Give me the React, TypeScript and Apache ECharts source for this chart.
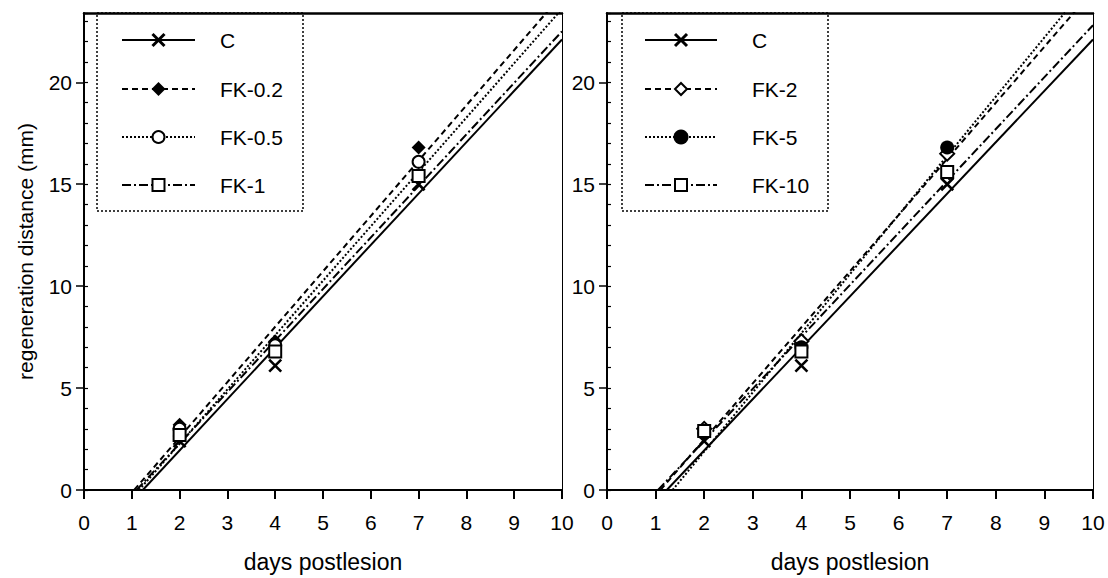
import React, { useEffect, useRef } from "react";
import * as echarts from "echarts";

// ---- data ----
const leftNames = ["C", "FK-0.2", "FK-0.5", "FK-1"];
const rightNames = ["C", "FK-2", "FK-5", "FK-10"];

const cPoints = [[2, 2.4], [4, 6.1], [7, 15.0]];
const fk02Points = [[2, 3.2], [4, 7.3], [7, 16.8]];
const fk05Points = [[2, 3.0], [4, 7.1], [7, 16.1]];
const fk1Points = [[2, 2.7], [4, 6.8], [7, 15.4]];
const fk2Points = [[2, 3.0], [4, 7.3], [7, 16.5]];
const fk5Points = [[2, 2.8], [4, 7.0], [7, 16.8]];
const fk10Points = [[2, 2.9], [4, 6.8], [7, 15.6]];

// regression lines: [x-intercept, 0] -> [10, value at day 10]
const cFit = [[1.23, 0], [10, 22.1]];
const fk02Fit = [[1.05, 0], [10, 24.3]];
const fk05Fit = [[1.15, 0], [10, 23.6]];
const fk1Fit = [[1.1, 0], [10, 22.5]];
const fk2Fit = [[1.1, 0], [10, 24.5]];
const fk5Fit = [[1.35, 0], [10, 25.1]];
const fk10Fit = [[1.05, 0], [10, 22.8]];

const yMajorTicks = [0, 5, 10, 15, 20];
const xTicks = [0, 1, 2, 3, 4, 5, 6, 7, 8, 9, 10];

const FONT = "Liberation Sans";

type Marker = "cross" | "diamondFill" | "circleOpen" | "rectOpen" | "diamondOpen" | "circleFill";

const lineTypes: any[] = ["solid", [6, 4], [2, 2], [9, 3, 2, 3]];

function markerStyle(m: Marker) {
  switch (m) {
    case "cross":
      return { symbol: "path://M0,0L10,10M10,0L0,10", symbolSize: 12, itemStyle: { color: "#000", borderColor: "#000", borderWidth: 2.6, opacity: 1 } };
    case "diamondFill":
      return { symbol: "diamond", symbolSize: 14, itemStyle: { color: "#000", opacity: 1 } };
    case "circleOpen":
      return { symbol: "circle", symbolSize: 12, itemStyle: { color: "#fff", borderColor: "#000", borderWidth: 2, opacity: 1 } };
    case "rectOpen":
      return { symbol: "rect", symbolSize: 12, itemStyle: { color: "#fff", borderColor: "#000", borderWidth: 2, opacity: 1 } };
    case "diamondOpen":
      return { symbol: "diamond", symbolSize: 14, itemStyle: { color: "#fff", borderColor: "#000", borderWidth: 2, opacity: 1 } };
    case "circleFill":
      return { symbol: "circle", symbolSize: 14, itemStyle: { color: "#000", opacity: 1 } };
  }
}

function legendMarker(m: Marker, cx: number, cy: number): any[] {
  const s = { stroke: "#000", lineWidth: 2 };
  switch (m) {
    case "cross":
      return [
        { type: "line", shape: { x1: cx - 6, y1: cy - 6, x2: cx + 6, y2: cy + 6 }, style: { stroke: "#000", lineWidth: 3 } },
        { type: "line", shape: { x1: cx + 6, y1: cy - 6, x2: cx - 6, y2: cy + 6 }, style: { stroke: "#000", lineWidth: 3 } },
      ];
    case "diamondFill":
      return [{ type: "polygon", shape: { points: [[cx, cy - 7], [cx + 7, cy], [cx, cy + 7], [cx - 7, cy]] }, style: { fill: "#000" } }];
    case "diamondOpen":
      return [{ type: "polygon", shape: { points: [[cx, cy - 6], [cx + 6, cy], [cx, cy + 6], [cx - 6, cy]] }, style: { fill: "#fff", ...s } }];
    case "circleOpen":
      return [{ type: "circle", shape: { cx, cy, r: 6 }, style: { fill: "#fff", ...s } }];
    case "circleFill":
      return [{ type: "circle", shape: { cx, cy, r: 7.5 }, style: { fill: "#000" } }];
    case "rectOpen":
      return [{ type: "rect", shape: { x: cx - 6, y: cy - 6, width: 12, height: 12 }, style: { fill: "#fff", ...s } }];
  }
}

function buildLegend(boxX: number, lineX1: number, lineX2: number, textX: number, names: string[], markers: Marker[]) {
  const els: any[] = [
    { type: "rect", shape: { x: boxX, y: 13, width: 206, height: 198 }, style: { fill: "none", stroke: "#000", lineWidth: 1.5, lineDash: [2, 2] }, z: 10 },
  ];
  const ys = [40, 89, 137, 185];
  names.forEach((n, i) => {
    const y = ys[i];
    const mid = (lineX1 + lineX2) / 2;
    els.push({ type: "line", shape: { x1: lineX1, y1: y, x2: lineX2, y2: y }, style: { stroke: "#000", lineWidth: 2, lineDash: i === 0 ? null : lineTypes[i] }, z: 10 });
    legendMarker(markers[i], mid, y).forEach((e) => els.push({ ...e, z: 11 }));
    els.push({ type: "text", x: textX, y, style: { text: n, fontFamily: FONT, fontSize: 21, fill: "#000", verticalAlign: "middle", align: "left" }, z: 11 });
  });
  return els;
}

export default function App() {
  const ref = useRef<HTMLDivElement>(null);
  useEffect(() => {
    document.body.style.margin = "0";
    if (!ref.current) return;
    const chart = echarts.init(ref.current, null, { renderer: "svg" });

    const leftMarkers: Marker[] = ["cross", "diamondFill", "circleOpen", "rectOpen"];
    const rightMarkers: Marker[] = ["cross", "diamondOpen", "circleFill", "rectOpen"];
    const leftPts = [cPoints, fk02Points, fk05Points, fk1Points];
    const rightPts = [cPoints, fk2Points, fk5Points, fk10Points];
    const leftFits = [cFit, fk02Fit, fk05Fit, fk1Fit];
    const rightFits = [cFit, fk2Fit, fk5Fit, fk10Fit];

    const axisLabelStyle = { fontFamily: FONT, fontSize: 21, color: "#000" };

    const xAxes: any[] = [];
    const yAxes: any[] = [];
    [0, 1].forEach((g) => {
      xAxes.push({
        type: "value", gridIndex: g, min: xTicks[0], max: xTicks[xTicks.length - 1], interval: 1,
        axisLine: { show: true, lineStyle: { color: "#000", width: 2 } },
        axisTick: { show: true, inside: false, length: 9, lineStyle: { color: "#000", width: 2 } },
        axisLabel: { ...axisLabelStyle, margin: 22 },
        splitLine: { show: false },
        name: "days postlesion", nameLocation: "middle", nameGap: 60,
        nameTextStyle: { fontFamily: FONT, fontSize: 23, color: "#000" },
      });
      xAxes.push({
        type: "value", gridIndex: g, position: "top", min: 0, max: 10,
        axisLine: { show: true, onZero: false, lineStyle: { color: "#000", width: 2.5 } },
        axisTick: { show: false }, axisLabel: { show: false }, splitLine: { show: false },
      });
      yAxes.push({
        type: "value", gridIndex: g, min: 0, max: 23.4, interval: 5,
        axisLine: { show: true, onZero: false, lineStyle: { color: "#000", width: 2 } },
        axisTick: { show: true, inside: false, length: 8, lineStyle: { color: "#000", width: 1.5 }, customValues: yMajorTicks },
        axisLabel: { ...axisLabelStyle, margin: 12, customValues: yMajorTicks },
        splitLine: { show: false },
        name: g === 0 ? "regeneration distance (mm)" : "", nameLocation: "middle", nameGap: 48,
        nameTextStyle: { fontFamily: FONT, fontSize: 21, color: "#000" },
      });
      yAxes.push({
        type: "value", gridIndex: g, min: 0, max: 23.4, interval: 1,
        axisLine: { show: false },
        axisTick: { show: true, inside: false, length: 4, lineStyle: { color: "#000", width: 1.2 } },
        axisLabel: { show: false }, splitLine: { show: false },
      });
      yAxes.push({
        type: "value", gridIndex: g, position: "right", min: 0, max: 23.4,
        axisLine: { show: true, onZero: false, lineStyle: { color: "#000", width: 1 } },
        axisTick: { show: false }, axisLabel: { show: false }, splitLine: { show: false },
      });
    });

    const series: any[] = [];
    const addPanel = (g: number, names: string[], fits: number[][][], pts: number[][][], markers: Marker[]) => {
      names.forEach((n, i) => {
        series.push({
          type: "line", name: n, xAxisIndex: g * 2, yAxisIndex: g * 3, data: fits[i],
          showSymbol: false, symbol: "none", clip: true,
          lineStyle: { color: "#000", width: 2, type: lineTypes[i] }, z: 2,
        });
      });
      names.forEach((n, i) => {
        series.push({
          type: "scatter", name: n, xAxisIndex: g * 2, yAxisIndex: g * 3, data: pts[i],
          ...markerStyle(markers[i]), z: 5,
        });
      });
    };
    addPanel(0, leftNames, leftFits, leftPts, leftMarkers);
    addPanel(1, rightNames, rightFits, rightPts, rightMarkers);

    chart.setOption({
      animation: false,
      backgroundColor: "#fff",
      grid: [
        { left: 84, right: 546, top: 13, bottom: 88 },
        { left: 607, right: 15, top: 13, bottom: 88 },
      ],
      xAxis: xAxes,
      yAxis: yAxes,
      series,
      graphic: [
        ...buildLegend(97, 122, 195, 220, leftNames, leftMarkers),
        ...buildLegend(622, 645, 717, 752, rightNames, rightMarkers),
      ],
    });
    return () => chart.dispose();
  }, []);
  return <div ref={ref} style={{ width: 1108, height: 578 }} />;
}
